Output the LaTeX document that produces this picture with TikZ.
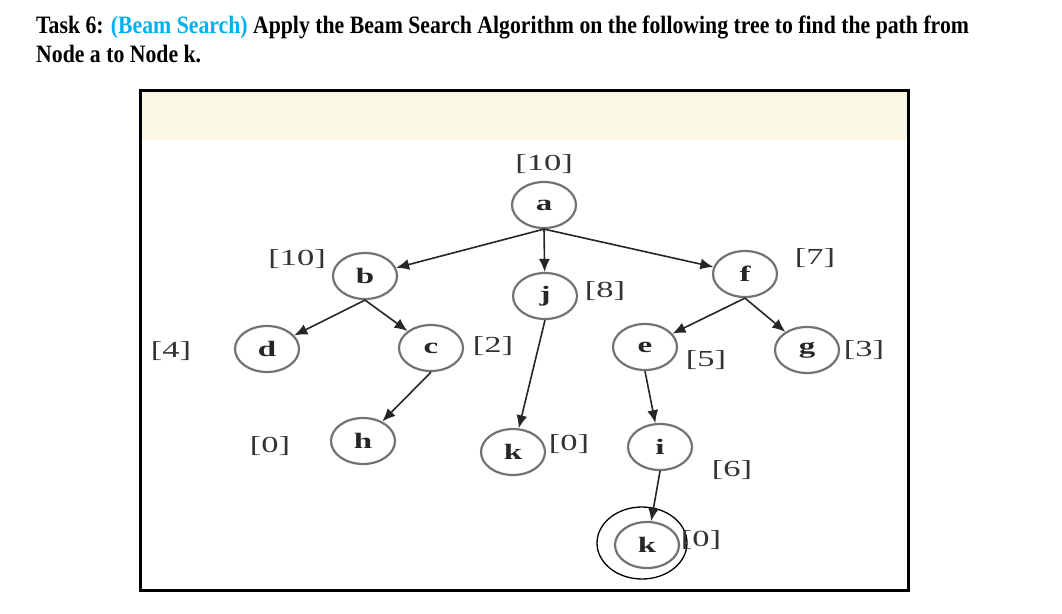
\documentclass[tikz,border=0pt]{standalone}
\usepackage{fontspec}
\setmainfont{Liberation Serif}
\usepackage{xcolor}
\usetikzlibrary{positioning,arrows.meta,shapes.geometric}
\definecolor{beamblue}{HTML}{00B0F0}
\definecolor{cream}{HTML}{FBF7E6}
\newcommand{\wide}[1]{\scalebox{1.5}[1]{#1}}
\newcommand{\narrow}[1]{\scalebox{0.87}[1]{#1}}

\begin{document}
\begin{tikzpicture}[
  x=1pt, y=-1pt,
  st/.style={draw=black!55,line width=2.2pt,ellipse,minimum width=64pt,minimum height=46pt,inner sep=0pt,font=\fontsize{22}{22}\selectfont\bfseries,text=black!85},
  hval/.style={inner sep=0pt,font=\fontsize{23}{23}\selectfont,text=black!80},
  edge/.style={draw=black!85,line width=1.6pt,-{Latex[length=13pt,width=11pt]}},
  ttl/.style={anchor=base west,inner sep=0pt,font=\fontsize{25}{29}\selectfont\bfseries}
]
\useasboundingbox[fill=white] (0,0) rectangle (1062,613);
% --- task text ---
\node[ttl] (task) at (36,33) {\narrow{Task 6: \textcolor{beamblue}{(Beam Search)} Apply the Beam Search Algorithm on the following tree to find the path from}};
\node[ttl] (task2) at (36,62) {\narrow{Node a to Node k.}};
% --- frame ---
\fill[cream] (140,90) rectangle (908,140);
\draw[line width=3pt] (140,90) rectangle (908,590);
% --- tree ---
\node[st] (a) at (544,205) {\wide{a}};
\node[st] (b) at (365,276) {\wide{b}};
\node[st] (j) at (545,296) {\wide{j}};
\node[st] (f) at (745,274) {\wide{f}};
\node[st] (d) at (267,349) {\wide{d}};
\node[st] (c) at (431,348) {\wide{c}};
\node[st] (e) at (645,347) {\wide{e}};
\node[st] (g) at (807,350) {\wide{g}};
\node[st] (h) at (363,441) {\wide{h}};
\node[st] (k1) at (513,452) {\wide{k}};
\node[st] (i) at (660,447) {\wide{i}};
\node[st] (k2) at (647,545) {\wide{k}};
\node[draw,ellipse,line width=1.3pt,minimum width=90pt,minimum height=72pt] (ring) at (642,543) {};
\foreach \p/\q in {a/b,a/j,a/f,b/d,b/c,f/e,f/g,c/h,j/k1,e/i,i/k2}{\draw[edge] (\p.south) -- (\q);}
% heuristic values
\node[hval] (la) at (544,164) {\wide{[10]}};
\node[hval] (lb) at (297,259) {\wide{[10]}};
\node[hval] (lj) at (605,291) {\wide{[8]}};
\node[hval] (lf) at (815,258) {\wide{[7]}};
\node[hval] (ld) at (171,351) {\wide{[4]}};
\node[hval] (lc) at (493,346) {\wide{[2]}};
\node[hval] (le) at (706,360) {\wide{[5]}};
\node[hval] (lg) at (864,350) {\wide{[3]}};
\node[hval] (lh) at (270,446) {\wide{[0]}};
\node[hval] (lk1) at (569,444) {\wide{[0]}};
\node[hval] (li) at (732,470) {\wide{[6]}};
\node[hval] (lk2) at (701,540) {\wide{[0]}};
\end{tikzpicture}
\end{document}
